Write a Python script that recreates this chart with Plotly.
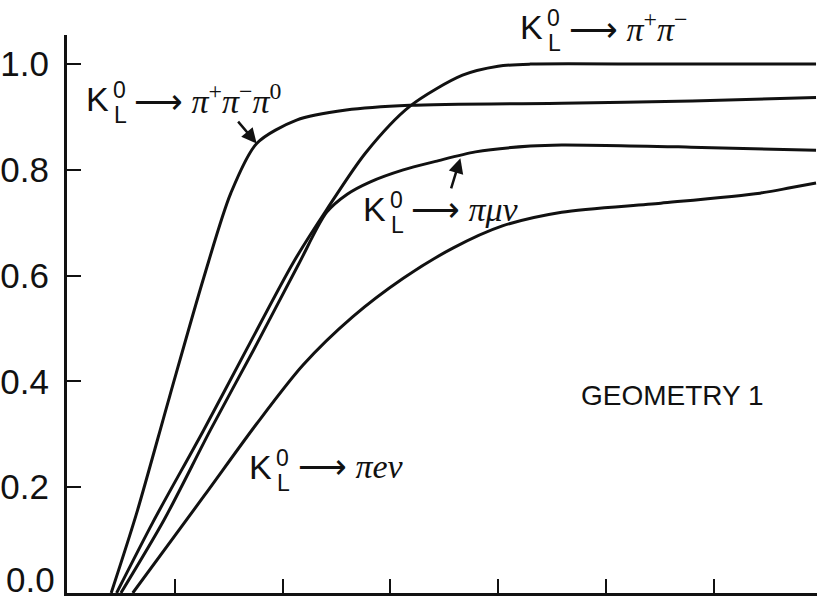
import plotly.graph_objects as go

# Efficiency curves (fraction of decays accepted) versus momentum bin
x_3pi = [0.41, 0.645, 0.95, 1.27, 1.52, 1.76, 2.13, 2.59, 3.18, 4.59, 5.80, 6.95]
y_3pi = [0.00, 0.150, 0.370, 0.597, 0.756, 0.850, 0.894, 0.913, 0.922, 0.926, 0.930, 0.937]

x_2pi = [0.46, 0.80, 1.26, 1.67, 2.10, 2.41, 2.77, 3.18, 3.67, 4.00, 4.30, 5.50, 6.95]
y_2pi = [0.00, 0.135, 0.305, 0.462, 0.625, 0.725, 0.832, 0.920, 0.979, 0.996, 1.000, 1.000, 1.000]

x_pmn = [0.50, 0.90, 1.33, 1.73, 2.15, 2.41, 2.60, 2.81, 3.12, 3.42, 3.79, 4.30, 4.59, 5.79, 6.95]
y_pmn = [0.00, 0.138, 0.308, 0.459, 0.622, 0.720, 0.754, 0.777, 0.800, 0.816, 0.834, 0.845, 0.847, 0.843, 0.837]

x_pen = [0.61, 1.27, 1.76, 2.19, 2.65, 3.12, 3.58, 4.04, 4.59, 5.51, 6.43, 6.71, 6.95]
y_pen = [0.00, 0.183, 0.320, 0.431, 0.522, 0.595, 0.652, 0.694, 0.720, 0.737, 0.756, 0.766, 0.775]

y_ticks = [0.0, 0.2, 0.4, 0.6, 0.8, 1.0]
y_tick_text = ["0.0", "0.2", "0.4", "0.6", "0.8", "1.0"]
x_ticks = [1, 2, 3, 4, 5, 6]

INK = "#111111"
SANS = "Liberation Sans"
SERIF = "Liberation Serif"

fig = go.Figure()
for xs, ys in [(x_3pi, y_3pi), (x_2pi, y_2pi), (x_pmn, y_pmn), (x_pen, y_pen)]:
    fig.add_trace(go.Scatter(
        x=xs, y=ys, mode="lines",
        line=dict(color=INK, width=3, shape="spline", smoothing=0.8),
        hoverinfo="skip", showlegend=False,
    ))

annotations = []


def decay_label(x, y, products, size=34, yref="y"):
    """K_L^0 -> products, with the 0 and L stacked after the K."""
    small = round(size * 0.68)
    common = dict(x=x, y=y, yref=yref, showarrow=False, yanchor="middle")
    annotations.extend([
        dict(common, text="K", xanchor="center",
             font=dict(family=SANS, size=size, color=INK)),
        dict(common, text="0", xanchor="center", xshift=22, yshift=9,
             font=dict(family=SANS, size=small, color=INK)),
        dict(common, text="L", xanchor="center", xshift=23, yshift=-16,
             font=dict(family=SANS, size=small, color=INK)),
        dict(common, text="\u27f6 " + products, xanchor="left", xshift=35,
             font=dict(family=SERIF, size=size, color=INK)),
    ])


PI = "<i>\u03c0</i>"
decay_label(0.28, 0.934, PI + "<sup>+</sup>" + PI + "<sup>\u2212</sup>" + PI + "<sup>0</sup>")
decay_label(4.31, 1.014, PI + "<sup>+</sup>" + PI + "<sup>\u2212</sup>", yref="paper")
decay_label(2.85, 0.726, "<i>\u03c0\u03bc\u03bd</i>")
decay_label(1.80, 0.239, "<i>\u03c0e\u03bd</i>")

# pointers from the labels to their curves
annotations.append(dict(x=1.76, y=0.85, ax=1.576, ay=0.894, axref="x", ayref="y",
                        text="", showarrow=True, arrowhead=2, arrowsize=1.2,
                        arrowwidth=2.5, arrowcolor=INK))
annotations.append(dict(x=3.65, y=0.822, ax=3.56, ay=0.762, axref="x", ayref="y",
                        text="", showarrow=True, arrowhead=2, arrowsize=1.2,
                        arrowwidth=2.5, arrowcolor=INK))

annotations.append(dict(x=5.62, y=0.374, text="GEOMETRY 1", showarrow=False,
                        xanchor="center", yanchor="middle",
                        font=dict(family=SANS, size=28, color=INK)))

# bottom tick label sits a little above the axis line
annotations.append(dict(x=0, y=0, xref="paper", yref="y", text=y_tick_text[0],
                        showarrow=False, xanchor="right", yanchor="middle",
                        xshift=-10, yshift=14,
                        font=dict(family=SANS, size=35, color=INK)))

fig.update_layout(
    width=817, height=598,
    margin=dict(l=62, r=0, t=35, b=5),
    paper_bgcolor="white", plot_bgcolor="white",
    annotations=annotations,
    xaxis=dict(range=[0, 6.959], showgrid=False, zeroline=False,
               showline=True, linecolor=INK, linewidth=3,
               ticks="inside", ticklen=14, tickwidth=2, tickcolor=INK,
               tickvals=x_ticks, showticklabels=False),
    yaxis=dict(range=[0, 1.055], showgrid=False, zeroline=False,
               showline=True, linecolor=INK, linewidth=3,
               ticks="inside", ticklen=14, tickwidth=2, tickcolor=INK,
               tickvals=y_ticks[1:], ticktext=y_tick_text[1:],
               ticklabelstandoff=8,
               tickfont=dict(family=SANS, size=35, color=INK)),
)

fig.write_html("out.html")
